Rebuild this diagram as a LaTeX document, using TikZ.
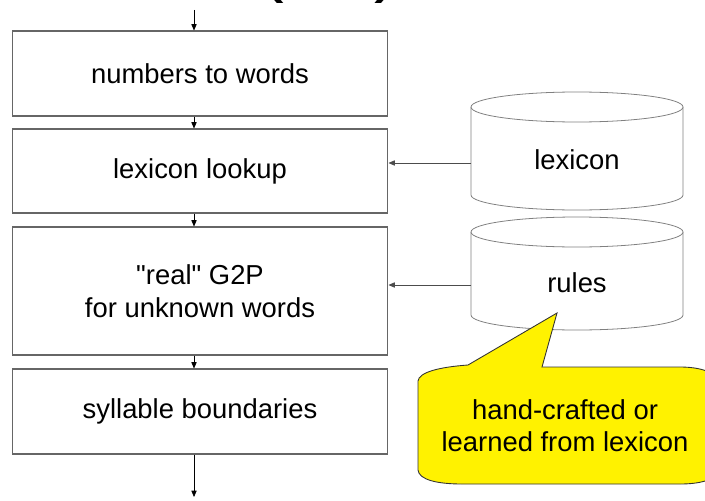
\documentclass[tikz,border=0pt]{standalone}
\usepackage{fontspec}
\setmainfont{Liberation Sans}
\newfontfamily\droit{Liberation Sans}
\usetikzlibrary{arrows.meta}

\tikzset{
  etape/.style={draw=black!60, line width=0.6pt, minimum width=7.52cm, align=center,
    font=\fontsize{15.6}{18.8}\selectfont},
  fleche/.style={-{Triangle[length=3.6pt,width=3pt]}, line width=0.4pt},
  base/.style={draw=black!50, line width=0.45pt, fill=white},
  texte/.style={align=center, font=\fontsize{15.6}{18.8}\selectfont},
}

\begin{document}
\begin{tikzpicture}[x=0.02cm, y=-0.02cm]
  \useasboundingbox (0,0) rectangle (705,500);
  % Titre (coupe en haut)
  \node[anchor=base west, font=\fontsize{44}{50}\selectfont, inner sep=0] (titre) at (258,-12) {(\hspace{1.8cm})};
  % Etapes
  \node[etape, minimum height=1.7cm]  (nombres)  at (200,73.5) {numbers to words};
  \node[etape, minimum height=1.68cm] (lookup)   at (200,171)  {lexicon lookup};
  \node[etape, minimum height=2.56cm] (g2p)      at (200,291)  {{\droit"}real{\droit"} G2P\\for unknown words};
  \node[etape, minimum height=1.7cm]  (syllabes) at (200,411.5) {syllable boundaries};
  % Fleches verticales
  \coordinate (entree) at (194,10);
  \coordinate (sortie) at (194,497);
  \draw[fleche] (entree) -- (entree |- nombres.north);
  \draw[fleche] (nombres.south -| entree) -- (lookup.north -| entree);
  \draw[fleche] (lookup.south -| entree) -- (g2p.north -| entree);
  \draw[fleche] (g2p.south -| entree) -- (syllabes.north -| entree);
  \draw[fleche] (syllabes.south -| entree) -- (sortie);
  % Cylindre lexicon
  \draw[base] (471,107) -- (471,195) arc[start angle=180, end angle=0, x radius=106, y radius=15] -- (683,107);
  \draw[base] (577,107) ellipse[x radius=106, y radius=15];
  \node[texte] (lexicon) at (577,160) {lexicon};
  % Cylindre rules
  \draw[base] (471,232) -- (471,315) arc[start angle=180, end angle=0, x radius=106, y radius=15] -- (683,232);
  \draw[base] (577,232) ellipse[x radius=106, y radius=15];
  \node[texte] (rules) at (577,283) {rules};
  % Fleches horizontales
  \coordinate (lexicon-w) at (471,163);
  \coordinate (rules-w) at (471,285);
  \draw[fleche, draw=black!70] (lexicon-w) -- (lexicon-w -| lookup.east);
  \draw[fleche, draw=black!70] (rules-w) -- (rules-w -| g2p.east);
  % Bulle
  \draw[draw=black!80, fill=yellow, line width=0.5pt]
    (418,470) -- (418,381) .. controls (419,372) and (440,367) .. (468,365)
    -- (557,313) -- (542,367) -- (680,367)
    .. controls (700,367) and (715,372) .. (722,382) -- (722,470)
    .. controls (715,480) and (700,484) .. (680,484) -- (462,484)
    .. controls (438,484) and (419,480) .. (418,470) -- cycle;
  \node[texte, font=\fontsize{15.6}{18.4}\selectfont] (bulle) at (565,426) {hand-crafted or\\learned from lexicon};
\end{tikzpicture}
\end{document}
